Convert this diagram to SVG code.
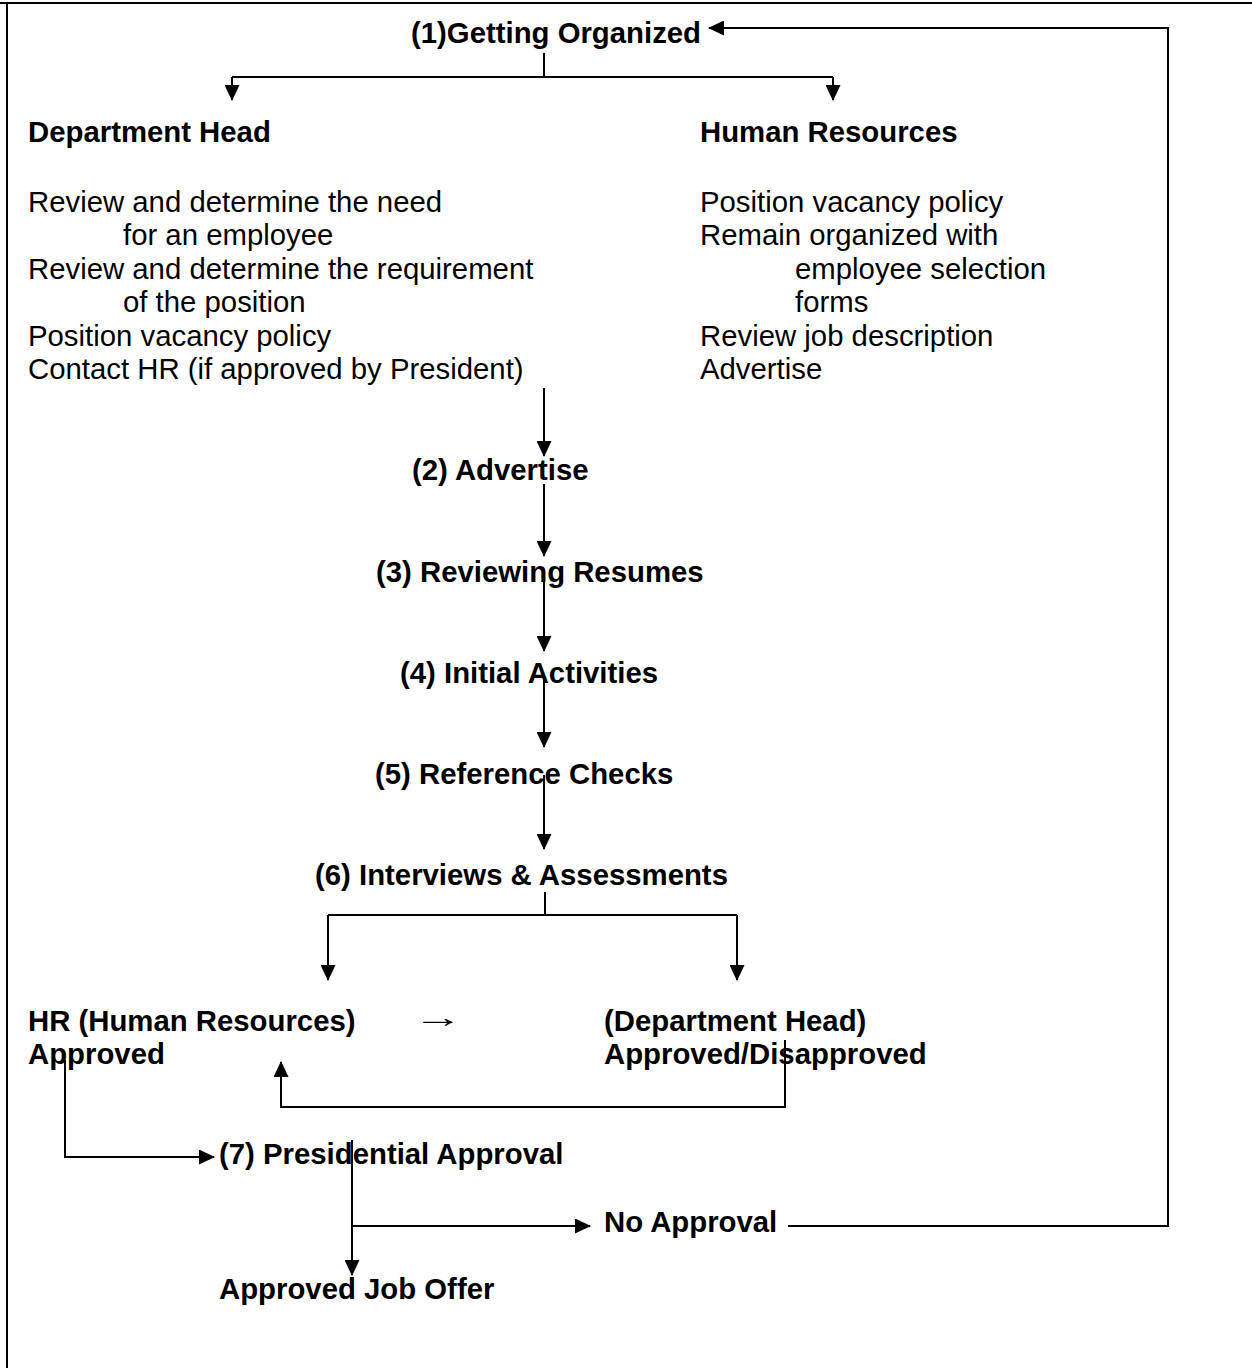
<svg xmlns="http://www.w3.org/2000/svg" width="1252" height="1368" viewBox="0 0 1252 1368">
<defs>
<style>
text{font-family:"Liberation Sans",Arial,sans-serif;font-size:29.33px;fill:#000}
.b{font-weight:bold}
.c{fill:none;stroke:#000;stroke-width:2}
</style>
<marker id="ah" markerUnits="userSpaceOnUse" markerWidth="16" markerHeight="15" refX="15" refY="7.5" orient="auto">
<path d="M0,0 L16,7.5 L0,15 z" fill="#000"/>
</marker>
</defs>
<rect width="1252" height="1368" fill="#fff"/>
<g id="frame" class="c">
<path d="M0,3 H1252 M7,3 V1368"/>
</g>
<g id="connectors" class="c">
<path d="M544,53 V77 M232,77 H833"/>
<path d="M232,77 V100" marker-end="url(#ah)"/>
<path d="M833,77 V100" marker-end="url(#ah)"/>
<path d="M544,388 V456" marker-end="url(#ah)"/>
<path d="M544,484 V556" marker-end="url(#ah)"/>
<path d="M544,580 V651" marker-end="url(#ah)"/>
<path d="M544,678 V747" marker-end="url(#ah)"/>
<path d="M544,775 V849" marker-end="url(#ah)"/>
<path d="M545,892 V915 M328,915 H737"/>
<path d="M328,915 V980" marker-end="url(#ah)"/>
<path d="M737,915 V980" marker-end="url(#ah)"/>
<path d="M785,1040 V1107 H281 V1062" marker-end="url(#ah)"/>
<path d="M65,1060 V1157 H214" marker-end="url(#ah)"/>
<path d="M352,1140 V1275" marker-end="url(#ah)"/>
<path d="M352,1226 H590" marker-end="url(#ah)"/>
<path d="M788,1226 H1168 V28 H709" marker-end="url(#ah)"/>
</g>
<g id="n1"><text class="b" x="411" y="42.5">(1)Getting Organized</text></g>
<g id="deptHead">
<text class="b" x="28" y="142">Department Head</text>
<text x="28" y="211.5">Review and determine the need</text>
<text x="123" y="245">for an employee</text>
<text x="28" y="278.5">Review and determine the requirement</text>
<text x="123" y="312">of the position</text>
<text x="28" y="345.5">Position vacancy policy</text>
<text x="28" y="379">Contact HR (if approved by President)</text>
</g>
<g id="humanRes">
<text class="b" x="700" y="142">Human Resources</text>
<text x="700" y="211.5">Position vacancy policy</text>
<text x="700" y="245">Remain organized with</text>
<text x="795" y="278.5">employee selection</text>
<text x="795" y="312">forms</text>
<text x="700" y="345.5">Review job description</text>
<text x="700" y="379">Advertise</text>
</g>
<g id="n2"><text class="b" x="412" y="480">(2) Advertise</text></g>
<g id="n3"><text class="b" x="376" y="582">(3) Reviewing Resumes</text></g>
<g id="n4"><text class="b" x="400" y="683">(4) Initial Activities</text></g>
<g id="n5"><text class="b" x="375" y="784">(5) Reference Checks</text></g>
<g id="n6"><text class="b" x="315" y="885">(6) Interviews &amp; Assessments</text></g>
<g id="hrApproved">
<text class="b" x="28" y="1031">HR (Human Resources)</text>
<text class="b" x="28" y="1064">Approved</text>
</g>
<g id="arrowChar"><text transform="translate(413,1027) scale(1.7,1)">→</text></g>
<g id="deptApproved">
<text class="b" x="604" y="1031">(Department Head)</text>
<text class="b" x="604" y="1064">Approved/Disapproved</text>
</g>
<g id="n7"><text class="b" x="219" y="1164">(7) Presidential Approval</text></g>
<g id="noApproval"><text class="b" x="604" y="1232">No Approval</text></g>
<g id="jobOffer"><text class="b" x="219" y="1299">Approved Job Offer</text></g>
</svg>
